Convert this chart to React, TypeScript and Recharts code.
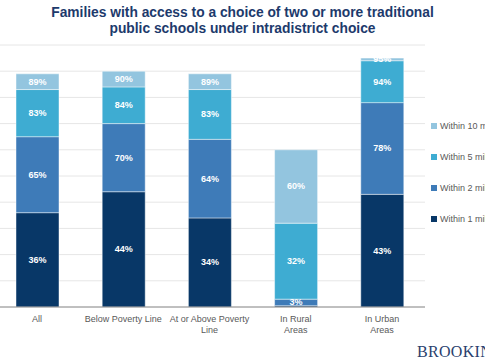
import React from 'react'
import { BarChart, Bar, XAxis, YAxis, CartesianGrid, LabelList, Legend } from 'recharts'

const categories = ['All', 'Below Poverty Line', 'At or Above Poverty\nLine', 'In Rural\nAreas', 'In Urban\nAreas']
// cumulative shares (what the labels show)
const within1 = [36, 44, 34, 0.5, 43]
const within2 = [65, 70, 64, 3, 78]
const within5 = [83, 84, 83, 32, 94]
const within10 = [89, 90, 89, 60, 95]

const SERIES = [
  { key: 'm1', name: 'Within 1 mile', color: '#083767', values: within1 },
  { key: 'm2', name: 'Within 2 miles', color: '#3e7bb8', values: within2 },
  { key: 'm5', name: 'Within 5 miles', color: '#3eacd2', values: within5 },
  { key: 'm10', name: 'Within 10 miles', color: '#93c5df', values: within10 },
]

// stack needs the segment sizes, labels keep the cumulative value
const data = categories.map((name, i) => {
  const row: any = { name }
  let prev = 0
  SERIES.forEach(s => {
    row[s.key] = s.values[i] - prev
    row[s.key + 'Cum'] = s.values[i]
    prev = s.values[i]
  })
  return row
})

const FONT = '"Liberation Sans", Arial, sans-serif'

const renderTick = (props: any) => {
  const { x, y, payload } = props
  const lines = String(payload.value).split('\n')
  return (
    <g>
      {lines.map((line: string, i: number) => (
        <text key={i} x={x} y={y + 4 + i * 10.5} textAnchor="middle" fill="#595959" fontSize={9} fontFamily={FONT} dominantBaseline="central">
          {line}
        </text>
      ))}
    </g>
  )
}

const makeLabel = (key: string) => (props: any) => {
  const { x, y, width, height, index } = props
  const v = data[index][key + 'Cum']
  if (data[index][key] < 1) return null
  return (
    <text x={x + width / 2} y={y + height / 2} textAnchor="middle" dominantBaseline="central" fill="#fff" fontSize={9} fontWeight="bold" fontFamily={FONT}>
      {v}%
    </text>
  )
}

const renderLegend = () => {
  const items = [...SERIES].reverse()
  return (
    <div style={{ fontFamily: FONT, fontSize: 9, color: '#595959' }}>
      {items.map((s, i) => (
        <div key={s.key} style={{ position: 'absolute', left: 0, top: i * 31, whiteSpace: 'nowrap', display: 'flex', alignItems: 'center' }}>
          <span style={{ display: 'inline-block', width: 6, height: 6, background: s.color, marginRight: 3 }} />
          {s.name}
        </div>
      ))}
    </div>
  )
}

export default function App() {
  return (
    <div style={{ position: 'absolute', left: 0, top: 0, width: 485, height: 360, overflow: 'hidden', background: '#fff' }}>
      <div style={{ position: 'absolute', top: 5, left: 0, width: 485, textAlign: 'center', fontFamily: FONT, fontWeight: 'bold', fontSize: 13.8, lineHeight: '16px', color: '#1d3a6c', whiteSpace: 'nowrap' }}>
        Families with access to a choice of two or more traditional
        <br />
        public schools under intradistrict choice
      </div>
      <div style={{ position: 'absolute', left: -6, top: 0 }}>
        <BarChart width={491} height={360} data={data} margin={{ top: 45, right: 60, bottom: 23, left: 0 }}>
          <CartesianGrid vertical={false} stroke="#e6e6e6" />
          <YAxis hide domain={[0, 100]} ticks={[0, 10, 20, 30, 40, 50, 60, 70, 80, 90, 100]} />
          <XAxis dataKey="name" height={30} tickLine={false} axisLine={{ stroke: '#8c8c8c' }} tick={renderTick} interval={0} />
          <Legend content={renderLegend} wrapperStyle={{ position: 'absolute', left: 437, top: 121, width: 60 }} />
          {SERIES.map(s => (
            <Bar key={s.key} dataKey={s.key} name={s.name} stackId="a" fill={s.color} barSize={43} stroke="#ffffff" strokeOpacity={0.45} strokeWidth={1} isAnimationActive={false}>
              <LabelList dataKey={s.key} content={makeLabel(s.key)} />
            </Bar>
          ))}
        </BarChart>
      </div>
      <div style={{ position: 'absolute', left: 417, top: 343, fontFamily: '"Liberation Serif", serif', fontSize: 16, color: '#2a3f6e', whiteSpace: 'nowrap', letterSpacing: 0.3 }}>
        BROOKINGS
      </div>
    </div>
  )
}
